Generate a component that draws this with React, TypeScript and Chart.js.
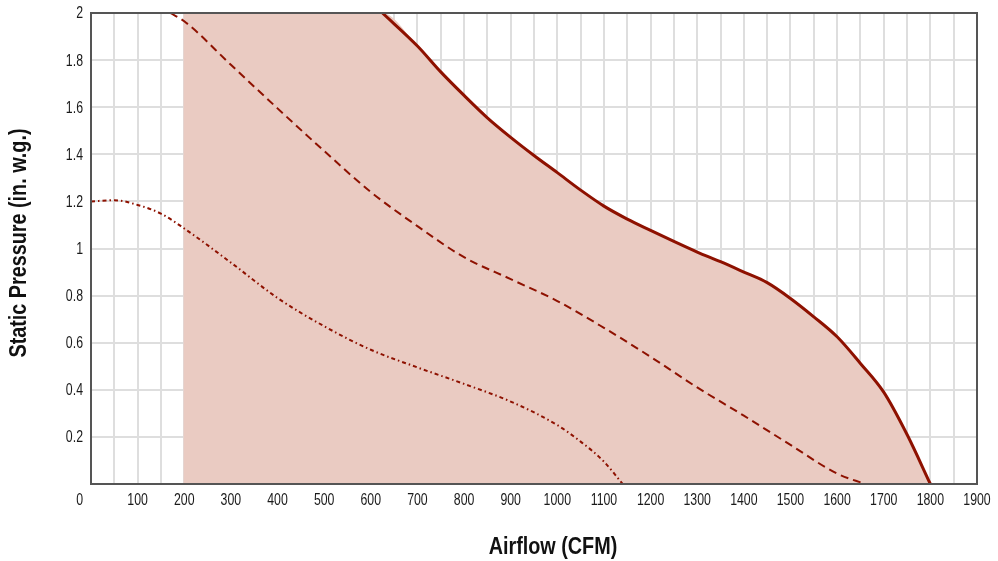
import React, { useEffect, useRef } from "react";
import { Chart, registerables } from "chart.js";

Chart.register(...registerables);

// Data (CFM, in. w.g.)
const solidX = [625, 700, 750, 800, 850, 900, 950, 1000, 1050, 1100, 1150, 1200, 1250, 1300, 1350, 1400, 1450, 1500, 1550, 1600, 1650, 1700, 1750, 1800];
const solidY = [2, 1.86, 1.75, 1.65, 1.555, 1.472, 1.395, 1.322, 1.248, 1.18, 1.125, 1.077, 1.03, 0.985, 0.944, 0.9, 0.855, 0.788, 0.71, 0.625, 0.512, 0.39, 0.21, 0];

const dashedX = [170, 200, 300, 400, 500, 600, 700, 800, 900, 1000, 1100, 1200, 1300, 1400, 1500, 1600, 1660];
const dashedY = [2, 1.965, 1.78, 1.595, 1.414, 1.24, 1.095, 0.963, 0.87, 0.777, 0.663, 0.54, 0.41, 0.29, 0.166, 0.044, 0];

const dotX = [0, 50, 100, 150, 200, 300, 400, 500, 600, 700, 800, 900, 1000, 1050, 1100, 1140];
const dotY = [1.2, 1.205, 1.185, 1.148, 1.085, 0.94, 0.79, 0.67, 0.57, 0.495, 0.425, 0.35, 0.25, 0.18, 0.095, 0];

// Operating region: starts at ~200 CFM, bounded by the solid curve
const regionStartX = [198, 198];
const regionStartY = [0, 2];

// Tick labels
const xTickValues = [100, 200, 300, 400, 500, 600, 700, 800, 900, 1000, 1100, 1200, 1300, 1400, 1500, 1600, 1700, 1800, 1900];
const yTickValues = [0.2, 0.4, 0.6, 0.8, 1, 1.2, 1.4, 1.6, 1.8, 2];
const yTickLabels = ["0.2", "0.4", "0.6", "0.8", "1", "1.2", "1.4", "1.6", "1.8", "2"];
const originLabel = "0";

const X_MIN = 0;
const X_MAX = 1900;
const Y_MIN = 0;
const Y_MAX = 2;

const xTitle = "Airflow (CFM)";
const yTitle = "Static Pressure (in. w.g.)";

const RED = "#8e1100";
const FILL = "#eacbc2";
const FONT = "'Liberation Sans', Arial, sans-serif";

const zip = (xs: number[], ys: number[]) => xs.map((x, i) => ({ x, y: ys[i] }));

function narrowText(ctx: CanvasRenderingContext2D, text: string, x: number, y: number, sx: number, align: CanvasTextAlign) {
  ctx.save();
  ctx.translate(x, y);
  ctx.scale(sx, 1);
  ctx.textAlign = align;
  ctx.fillText(text, 0, 0);
  ctx.restore();
}

const extrasPlugin = {
  id: "extras",
  afterDraw(chart: any) {
    const { ctx, chartArea } = chart;
    const x = chart.scales.x;
    const y = chart.scales.y;
    ctx.save();
    // frame
    ctx.strokeStyle = "#555";
    ctx.lineWidth = 2;
    ctx.strokeRect(chartArea.left, chartArea.top, chartArea.right - chartArea.left, chartArea.bottom - chartArea.top);
    // tick labels
    ctx.fillStyle = "#1a1a1a";
    ctx.font = `16px ${FONT}`;
    ctx.textBaseline = "middle";
    xTickValues.forEach((v) => {
      narrowText(ctx, String(v), x.getPixelForValue(v), chartArea.bottom + 17, 0.77, "center");
    });
    yTickValues.forEach((v, i) => {
      narrowText(ctx, yTickLabels[i], chartArea.left - 8, y.getPixelForValue(v) + 1, 0.77, "right");
    });
    narrowText(ctx, originLabel, chartArea.left - 8, chartArea.bottom + 17, 0.77, "right");
    // x title
    ctx.fillStyle = "#111";
    ctx.font = `bold 23px ${FONT}`;
    narrowText(ctx, xTitle, 553, 548, 0.86, "center");
    // y title
    ctx.translate(20, 243);
    ctx.rotate(-Math.PI / 2);
    narrowText(ctx, yTitle, 0, 0, 0.86, "center");
    ctx.restore();
  },
};

export default function App() {
  const ref = useRef<HTMLCanvasElement>(null);
  useEffect(() => {
    document.body.style.margin = "0";
    const chart = new Chart(ref.current!, {
      type: "line",
      data: {
        datasets: [
          {
            label: "region",
            data: [...zip(regionStartX, regionStartY), ...zip(solidX, solidY)],
            backgroundColor: FILL,
            borderWidth: 0,
            borderColor: "rgba(0,0,0,0)",
            pointRadius: 0,
            fill: "origin",
            order: 10,
            cubicInterpolationMode: "monotone",
          },
          {
            label: "max",
            data: zip(solidX, solidY),
            borderColor: RED,
            borderWidth: 3,
            pointRadius: 0,
            fill: false,
            order: 1,
            cubicInterpolationMode: "monotone",
          },
          {
            label: "mid",
            data: zip(dashedX, dashedY),
            borderColor: RED,
            borderWidth: 2,
            borderDash: [8, 5],
            pointRadius: 0,
            fill: false,
            order: 1,
            cubicInterpolationMode: "monotone",
          },
          {
            label: "min",
            data: zip(dotX, dotY),
            borderColor: RED,
            borderWidth: 2,
            borderDash: [4, 3, 1.5, 3],
            pointRadius: 0,
            fill: false,
            order: 1,
            cubicInterpolationMode: "monotone",
          },
        ],
      },
      options: {
        responsive: false,
        animation: false,
        devicePixelRatio: 1,
        layout: { padding: { left: 0, top: 13, right: 21, bottom: 0 } },
        plugins: { legend: { display: false }, tooltip: { enabled: false } },
        scales: {
          x: {
            type: "linear",
            min: X_MIN,
            max: X_MAX,
            afterFit: (s: any) => {
              s.height = 77;
            },
            ticks: { stepSize: 50, autoSkip: false, display: false },
            grid: { color: "#dedede", lineWidth: 2, drawTicks: false },
            border: { color: "#555", width: 2 },
          },
          y: {
            type: "linear",
            min: Y_MIN,
            max: Y_MAX,
            afterFit: (s: any) => {
              s.width = 91;
            },
            ticks: { stepSize: 0.2, autoSkip: false, display: false },
            grid: { color: "#dedede", lineWidth: 2, drawTicks: false },
            border: { color: "#555", width: 2 },
          },
        },
      },
      plugins: [extrasPlugin],
    } as any);
    return () => chart.destroy();
  }, []);
  return (
    <div style={{ position: "absolute", left: 0, top: 0, width: 998, height: 561 }}>
      <canvas ref={ref} width={998} height={561} />
    </div>
  );
}
